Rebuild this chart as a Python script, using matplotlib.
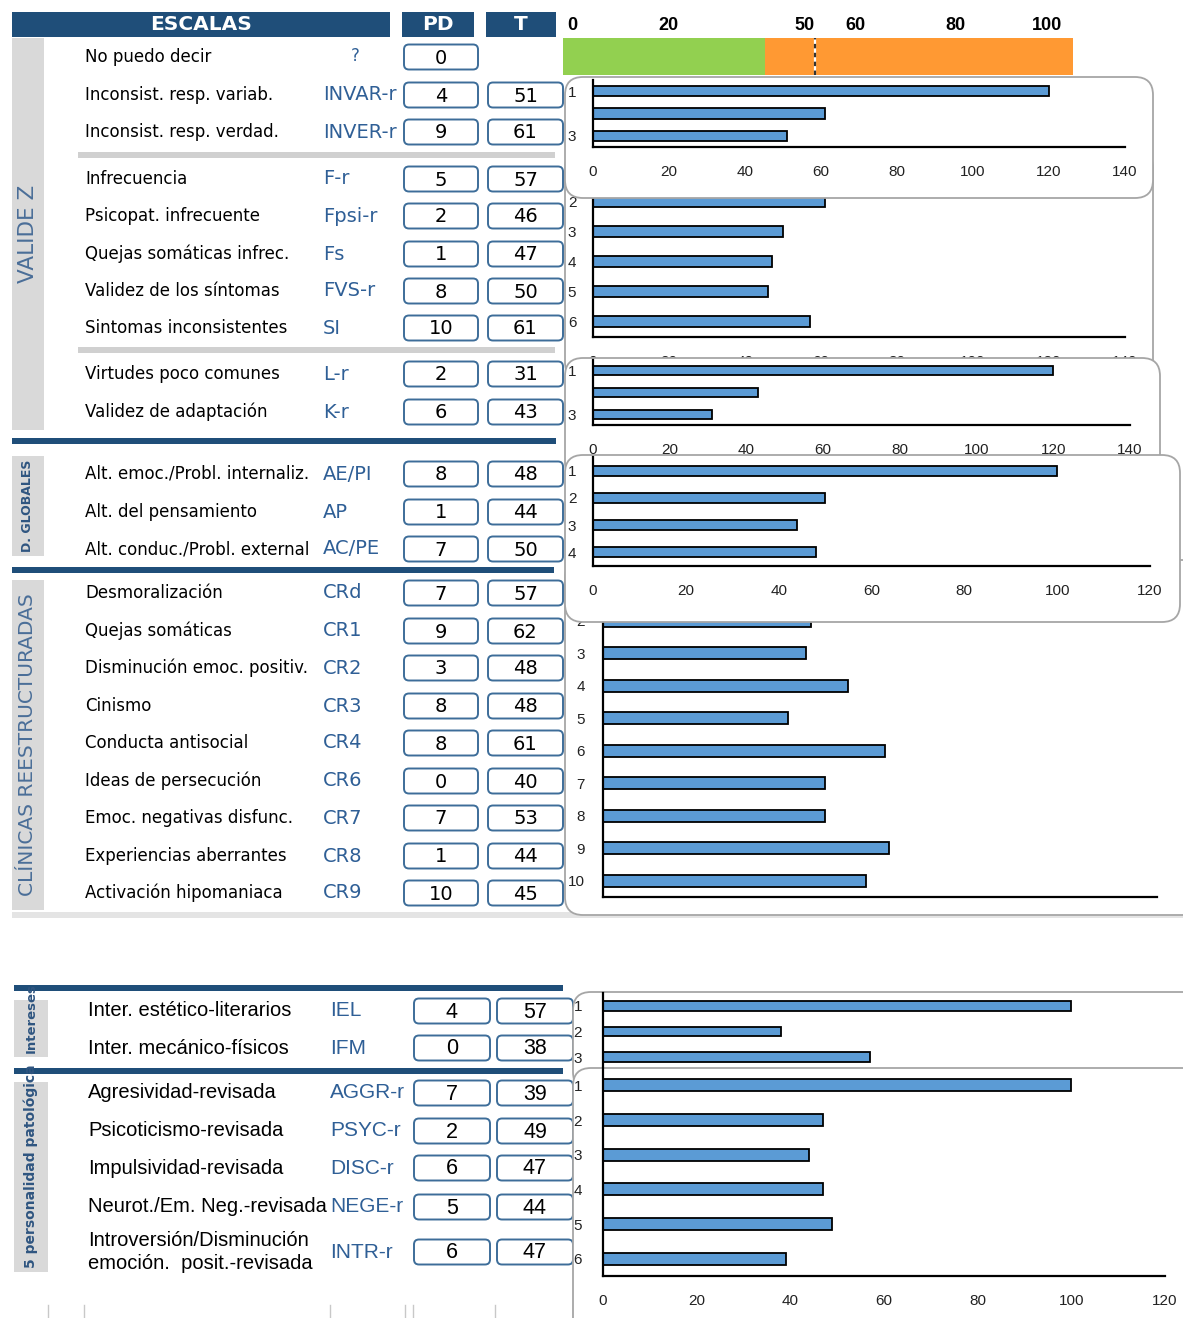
import numpy as np
import matplotlib
matplotlib.use("Agg")
import matplotlib.pyplot as plt
from matplotlib.patches import Rectangle, FancyBboxPatch
from matplotlib.transforms import Affine2D

# ---- data ----
val_names = ["No puedo decir", "Inconsist. resp. variab.", "Inconsist. resp. verdad.",
             "Infrecuencia", "Psicopat. infrecuente", "Quejas somáticas infrec.",
             "Validez de los síntomas", "Sintomas inconsistentes",
             "Virtudes poco comunes", "Validez de adaptación"]
val_abbr = ["?", "INVAR-r", "INVER-r", "F-r", "Fpsi-r", "Fs", "FVS-r", "SI", "L-r", "K-r"]
val_pd = [0, 4, 9, 5, 2, 1, 8, 10, 2, 6]
val_t = [None, 51, 61, 57, 46, 47, 50, 61, 31, 43]

glob_names = ["Alt. emoc./Probl. internaliz.", "Alt. del pensamiento", "Alt. conduc./Probl. external"]
glob_abbr = ["AE/PI", "AP", "AC/PE"]
glob_pd = [8, 1, 7]
glob_t = [48, 44, 50]

clin_names = ["Desmoralización", "Quejas somáticas", "Disminución emoc. positiv.", "Cinismo",
              "Conducta antisocial", "Ideas de persecución", "Emoc. negativas disfunc.",
              "Experiencias aberrantes", "Activación hipomaniaca"]
clin_abbr = ["CRd", "CR1", "CR2", "CR3", "CR4", "CR6", "CR7", "CR8", "CR9"]
clin_pd = [7, 9, 3, 8, 8, 0, 7, 1, 10]
clin_t = [57, 62, 48, 48, 61, 40, 53, 44, 45]

int_names = ["Inter. estético-literarios", "Inter. mecánico-físicos"]
int_abbr = ["IEL", "IFM"]
int_pd = [4, 0]
int_t = [57, 38]

psy_names = ["Agresividad-revisada", "Psicoticismo-revisada", "Impulsividad-revisada",
             "Neurot./Em. Neg.-revisada", "Introversión/Disminución\nemoción.  posit.-revisada"]
psy_abbr = ["AGGR-r", "PSYC-r", "DISC-r", "NEGE-r", "INTR-r"]
psy_pd = [7, 2, 6, 5, 6]
psy_t = [39, 49, 47, 44, 47]

# bars as displayed in the embedded charts (top to bottom)
bars_val1 = [120, 61, 51]
bars_val2 = [120, 61, 50, 47, 46, 57]
bars_val3 = [120, 43, 31]
bars_glob = [100, 50, 44, 48]
bars_clin = [100, 45, 44, 53, 40, 61, 48, 48, 62, 57]
bars_int = [100, 38, 57]
bars_psy = [100, 47, 44, 47, 49, 39]

scale_labels = ["0", "20", "50", "60", "80", "100"]
scale_green = 40
scale_end = 101
scale_cut = 50

# ---- layout ----
W, H = 1183, 1318
fig = plt.figure(figsize=(W / 100, H / 100), dpi=100)
bg = fig.add_axes([0, 0, 1, 1])
bg.set_xlim(0, W)
bg.set_ylim(H, 0)
bg.axis('off')
bg.set_zorder(0)

NAVY = '#1F4E79'
ABBR = '#2F5F96'
BOXC = '#3D6D99'
STRIP = '#D9D9D9'
F1 = 'DejaVu Sans'
F2 = 'Liberation Sans'


def rect(x0, y0, x1, y1, color):
    bg.add_patch(Rectangle((x0, y0), x1 - x0, y1 - y0, color=color, lw=0))
    return bg.patches[-1]


def vbox(x0, x1, yc, txt, fs, font):
    bg.add_patch(FancyBboxPatch((x0, yc - 12.5), x1 - x0, 25, boxstyle='round,pad=0,rounding_size=5',
                                fc='white', ec=BOXC, lw=1.4))
    bg.text((x0 + x1) / 2, yc + 1, txt, ha='center', va='center', fontsize=fs, family=font)


def rows(names, abbr, pd, t, ys, xs, font, sizes):
    xn, xa, pdx, tx = xs
    fn, fa, fv = sizes
    for nm, ab, p, tv, y in zip(names, abbr, pd, t, ys):
        bg.text(xn, y, nm, va='center', fontsize=fn, family=font, linespacing=1.25)
        if ab == '?':
            bg.text(355, y - 1, ab, va='center', ha='center', fontsize=fn, family=font, color=ABBR)
        else:
            bg.text(xa, y, ab, va='center', fontsize=fa, family=font, color=ABBR)
        vbox(pdx[0], pdx[1], y, str(p), fv, font)
        if tv is not None:
            vbox(tx[0], tx[1], y, str(tv), fv, font)


def strip_label(x0, y0, x1, y1, txt, fs, bold, color, anchor='center'):
    r = rect(x0, y0, x1, y1, STRIP)
    if anchor == 'center':
        tt = bg.text((x0 + x1) / 2, (y0 + y1) / 2, txt, rotation=90, ha='center', va='center',
                     fontsize=fs, color=color, fontweight='bold' if bold else 'normal', family=F1)
    else:
        tt = bg.text((x0 + x1) / 2, y1 - 4, txt, rotation=90, ha='center', va='bottom',
                     fontsize=fs, color=color, fontweight='bold' if bold else 'normal', family=F1)
    tt.set_clip_path(r)


# header
rect(12, 12, 390, 37, NAVY)
rect(402, 12, 474, 37, NAVY)
rect(486, 12, 556, 37, NAVY)
bg.text(201, 25, "ESCALAS", color='white', fontsize=14.5, fontweight='bold', ha='center', va='center', family=F1)
bg.text(438, 25, "PD", color='white', fontsize=14.5, fontweight='bold', ha='center', va='center', family=F1)
bg.text(521, 25, "T", color='white', fontsize=14.5, fontweight='bold', ha='center', va='center', family=F1)
for lab, x in zip(scale_labels, [567, 668, 805, 855, 955, 1047]):
    bg.text(x, 25, lab, fontsize=13, fontweight='bold', ha='center' if lab != '0' else 'left',
            va='center', family=F2)

# side strips
strip_label(12, 38, 44, 430, "VALIDE Z", 15.5, False, '#4A6E98')
strip_label(12, 456, 44, 556, "D. GLOBALES", 9, True, '#2F5580')
strip_label(12, 580, 44, 910, "CLÍNICAS REESTRUCTURADAS", 14.5, False, '#4A6E98')
strip_label(14, 1000, 48, 1057, "Intereses", 9.5, True, '#2F5580', anchor='bottom')
strip_label(14, 1082, 48, 1272, "5 personalidad patológica", 10, True, '#2F5580', anchor='bottom')

# separators
rect(78, 152, 555, 158, '#D0D0D0')
rect(78, 347, 555, 353, '#D0D0D0')
rect(12, 438, 556, 444, NAVY)
rect(12, 567, 554, 573, NAVY)
rect(14, 985, 563, 991, NAVY)
rect(14, 1068, 563, 1074, NAVY)
rect(12, 912, 1183, 918, '#E4E4E4')
for x in [48, 84, 330, 405, 413, 495, 573]:
    bg.plot([x, x], [1305, 1318], color='#C8C8C8', lw=1)

cols1 = (85, 323, (404, 478), (488, 563))
cols2 = (88, 330, (414, 490), (497, 573))
s1 = (12, 14, 14)
s2 = (14.5, 15, 15.5)
rows(val_names, val_abbr, val_pd, val_t, [57, 95, 132, 179, 216, 254, 291, 328, 374, 412], cols1, F1, s1)
rows(glob_names, glob_abbr, glob_pd, glob_t, [474, 512, 549], cols1, F1, s1)
rows(clin_names, clin_abbr, clin_pd, clin_t, [593, 631, 668, 706, 743, 781, 818, 856, 893], cols1, F1, s1)
rows(int_names, int_abbr, int_pd, int_t, [1011, 1048], cols2, F2, s2)
rows(psy_names, psy_abbr, psy_pd, psy_t, [1093, 1131, 1168, 1207, 1252], cols2, F2, s2)

# colour scale
sc = fig.add_axes([563 / W, 1 - 75 / H, (1073 - 563) / W, 37 / H])
sc.barh(0, scale_green, height=1, color='#92D050')
sc.barh(0, scale_end - scale_green, left=scale_green, height=1, color='#FF9933')
sc.axvline(scale_cut, color='white', lw=1.6)
sc.axvline(scale_cut, color='#333333', lw=1.6, ls=(0, (2, 2)))
sc.set_xlim(0, scale_end)
sc.set_ylim(-0.5, 0.5)
sc.axis('off')
sc.set_zorder(1)

PIX = Affine2D().scale(1 / W, 1 / H) + fig.transFigure


def chart(frame, box, vals, xmax, z, bh, xlabels=True, ylabels=None, ypad=12):
    fx0, fy0, fx1, fy1 = frame
    bx0, by0, bx1, by1 = box
    ax = fig.add_axes([bx0 / W, 1 - by1 / H, (bx1 - bx0) / W, (by1 - by0) / H])
    ax.set_zorder(z)
    ax.patch.set_visible(False)
    fr = FancyBboxPatch((fx0, H - fy1), fx1 - fx0, fy1 - fy0, boxstyle='round,pad=0,rounding_size=18',
                        fc='white', ec='#A6A6A6', lw=1.3, transform=PIX, clip_on=False, zorder=0)
    ax.add_artist(fr)
    n = len(vals)
    y = np.arange(n)
    ax.barh(y, vals, height=bh, color='#5B9BD5', edgecolor='black', lw=1.3, zorder=2)
    ax.set_xlim(0, xmax)
    ax.set_ylim(n - 0.5, -0.5)
    ax.set_xticks(np.arange(0, xmax + 1, 20))
    ax.set_yticks(y)
    ax.set_yticklabels(ylabels if ylabels else [str(i + 1) for i in y])
    for s in ['top', 'right']:
        ax.spines[s].set_visible(False)
    for s in ['left', 'bottom']:
        ax.spines[s].set_linewidth(1.6)
        ax.spines[s].set_zorder(3)
    ax.tick_params(length=0, labelsize=11, labelcolor='#222222')
    ax.tick_params(axis='x', pad=13)
    ax.tick_params(axis='y', pad=ypad)
    for lab in ax.get_xticklabels() + ax.get_yticklabels():
        lab.set_family(F2)
    if not xlabels:
        ax.set_xticklabels([])
    return ax


chart((565, 150, 1153, 380), (593, 156, 1125, 337), bars_val2, 140, 2, 0.37)
chart((565, 77, 1153, 198), (593, 80, 1125, 147), bars_val1, 140, 4, 0.45, ylabels=['1', '', '3'])
chart((565, 358, 1160, 480), (593, 360, 1130, 425), bars_val3, 140, 3, 0.4, ylabels=['1', '', '3'])
chart((565, 560, 1200, 915), (603, 572, 1157, 897), bars_clin, 120, 2, 0.37, xlabels=False, ypad=13)
chart((565, 455, 1180, 622), (593, 457, 1150, 566), bars_glob, 120, 5, 0.37)
chart((573, 992, 1200, 1090), (603, 993, 1165, 1070), bars_int, 120, 2, 0.38, xlabels=False, ypad=15)
chart((573, 1068, 1200, 1340), (603, 1068, 1165, 1276), bars_psy, 120, 3, 0.35, ypad=15)

fig.savefig("out.png", dpi=100)
